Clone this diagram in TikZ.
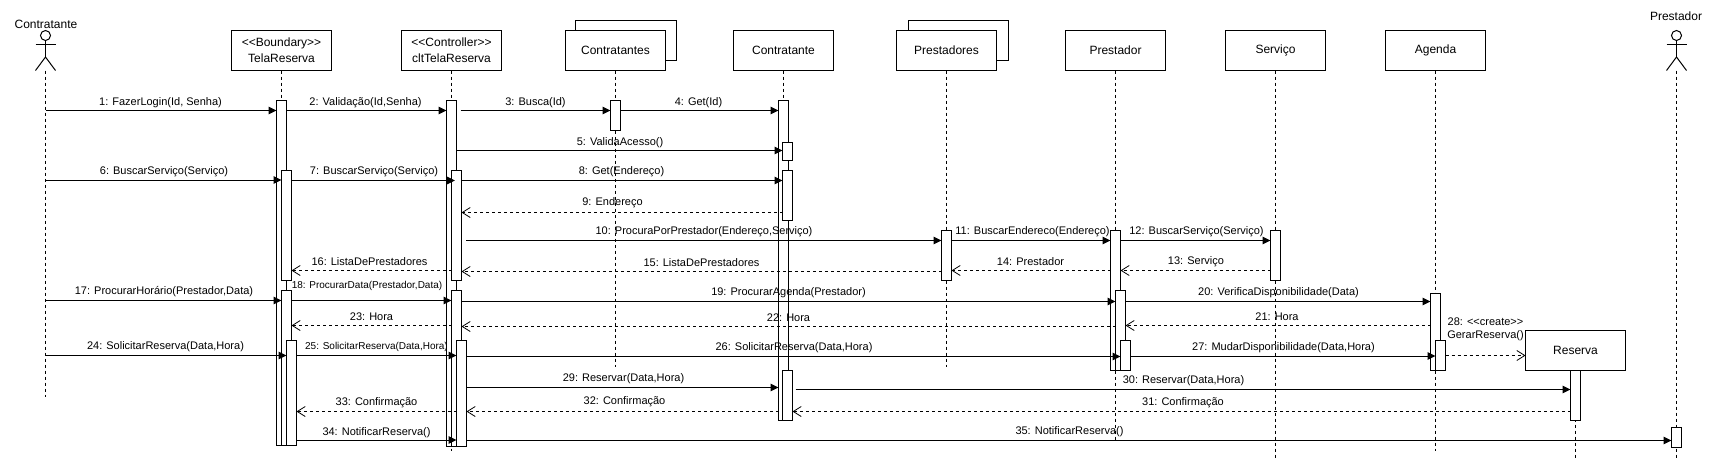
\documentclass[tikz,border=0pt]{standalone}
\usepackage{fontspec}
\setmainfont{Liberation Sans}
\usetikzlibrary{arrows.meta}
\tikzset{
  base/.style={line width=1pt,draw=black},
  objbox/.style={base,fill=white,minimum width=100pt,minimum height=40pt,inner sep=0pt,outer sep=0pt,align=center,font=\fontsize{12pt}{15pt}\selectfont},
  actbox/.style={base,fill=white,minimum width=10pt,inner sep=0pt,outer sep=0pt},
  lifeline/.style={base,dash pattern=on 3pt off 3pt},
  syncmsg/.style={base,-{Triangle[length=8pt,width=7.5pt]}},
  retmsg/.style={base,dash pattern=on 3pt off 3pt,-{Straight Barb[length=8pt,width=10pt,line width=.8pt]}},
  lab/.style={inner sep=0pt,outer sep=0pt,yshift=-1pt,font=\fontsize{11pt}{13pt}\selectfont},
  smalllab/.style={inner sep=0pt,outer sep=0pt,yshift=-1pt,font=\fontsize{10pt}{12pt}\selectfont},
  actorpart/.style={base},
}
\newcommand\actbar[4]{\pgfmathsetmacro\barh{#4-#3}\node[actbox,minimum height=\barh pt,anchor=north] (#1) at (#2,#3) {};}
% id, from, to, y, label x, label y, text
\newcommand\syncm[7]{\draw[syncmsg] (#2 |- 0,#4) -- (#3 |- 0,#4);\node[lab] (m#1) at (#5,#6) {#7};}
\newcommand\retm[7]{\draw[retmsg] (#2 |- 0,#4) -- (#3 |- 0,#4);\node[lab] (m#1) at (#5,#6) {#7};}
\newcommand\actorfig[1]{%
  \node[base,circle,minimum size=10pt,inner sep=0pt,outer sep=0pt,fill=white] (#1head) at (#1top) {};
  \draw[actorpart] (#1head.south) -- ([yshift=-16.5pt]#1head.south) coordinate (#1hip);
  \draw[actorpart] ([xshift=-10pt,yshift=-3.5pt]#1head.south) -- ([xshift=10pt,yshift=-3.5pt]#1head.south);
  \draw[actorpart] ([xshift=-10pt,yshift=-13.5pt]#1hip) -- (#1hip) -- ([xshift=10pt,yshift=-13.5pt]#1hip);
  \coordinate (#1foot) at ([yshift=-13.5pt]#1hip);
}
\begin{document}
\begin{tikzpicture}[x=1pt,y=-1pt]
\useasboundingbox (0,0) rectangle (1716,461);
% actors
\coordinate (aAtop) at (45.5,35.5);
\coordinate (aBtop) at (1676.5,35.5);
\coordinate (aAend) at (45.5,397);
\coordinate (aBend) at (1676.5,458);
\node[lab,font=\fontsize{12pt}{14pt}\selectfont] (aAname) at (46,23) {Contratante};
\node[lab,font=\fontsize{12pt}{14pt}\selectfont] (aBname) at (1676,15) {Prestador};
\actorfig{aA}
\actorfig{aB}
\draw[lifeline] (aAfoot) -- (aAend);
\draw[lifeline] (aBfoot) -- (aBend);
% back boxes of multi-objects
\node[base,fill=white,minimum width=101pt,minimum height=40pt,inner sep=0pt,outer sep=0pt] (ctsback) at (626,40.5) {};
\node[base,fill=white,minimum width=100pt,minimum height=40pt,inner sep=0pt,outer sep=0pt] (prsback) at (958.5,40.5) {};
% objects
\node[objbox] (tela) at (281.5,50.5) {<{}<Boundary>{}>\\[1pt]TelaReserva};
\node[objbox] (clt) at (451.5,50.5) {<{}<Controller>{}>\\[1pt]cltTelaReserva};
\node[objbox] (cts) at (615.5,50.5) {Contratantes};
\node[objbox] (ctr) at (783.5,50.5) {Contratante};
\node[objbox] (prs) at (946.5,50.5) {Prestadores};
\node[objbox] (pre) at (1115.5,50.5) {Prestador};
\node[objbox] (ser) at (1275.5,50.5) {Serviço};
\node[objbox] (age) at (1435.5,50.5) {Agenda};
\node[objbox] (res) at (1575.5,350.5) {Reserva};
% lifeline ends
\coordinate (telaend) at (281.5,445);
\coordinate (cltend) at (451.5,451);
\coordinate (ctsend) at (615.5,367);
\coordinate (ctrend) at (783.5,420);
\coordinate (prsend) at (946.5,367);
\coordinate (preend) at (1115.5,440);
\coordinate (serend) at (1275.5,458);
\coordinate (ageend) at (1435.5,451);
\coordinate (resend) at (1575.5,458);
\foreach \o in {tela,clt,cts,ctr,prs,pre,ser,age,res}{\draw[lifeline] (\o.south) -- (\o end);}
% activations
\actbar{tA}{281.5}{100.5}{445.5}
\actbar{tB}{286.5}{170.5}{280.5}
\actbar{tC}{286.5}{290.5}{445.5}
\actbar{tD}{291.5}{340.5}{445.5}
\actbar{cA}{451.5}{100.5}{446.5}
\actbar{cB}{456.5}{170.5}{280.5}
\actbar{cC}{456.5}{290.5}{446.5}
\actbar{cD}{461.5}{340.5}{446.5}
\actbar{sA}{615.5}{100.5}{130.5}
\actbar{dA}{783.5}{100.5}{420.5}
\actbar{dB}{787.5}{142.5}{160.5}
\actbar{dC}{787.5}{170.5}{220.5}
\actbar{dD}{787.5}{370.5}{420.5}
\actbar{pA}{946.5}{230.5}{280.5}
\actbar{eA}{1115.5}{230.5}{370.5}
\actbar{eB}{1120.5}{290.5}{370.5}
\actbar{eC}{1125.5}{340.5}{370.5}
\actbar{vA}{1275.5}{230.5}{280.5}
\actbar{gA}{1435.5}{293.5}{370.5}
\actbar{gB}{1440.5}{340.5}{370.5}
\actbar{rA}{1575.5}{370.5}{420.5}
\actbar{xA}{1676.5}{427.5}{447.5}
% free message ends
\coordinate (s3) at (460.5,0);
\coordinate (s10) at (466,0);
\coordinate (t7) at (455,0);
\coordinate (s30) at (795.5,0);
\coordinate (t34) at (456.5,0);
% messages
\syncm{1}{aAend}{tA.west}{110.5}{160.5}{101.5}{1: FazerLogin(Id, Senha)}
\syncm{2}{tA.east}{cA.west}{110.5}{365.5}{101.5}{2: Validação(Id,Senha)}
\syncm{3}{s3}{sA.west}{110.5}{535.5}{101.5}{3: Busca(Id)}
\syncm{4}{sA.east}{dA.west}{110.5}{698.5}{101.5}{4: Get(Id)}
\syncm{5}{cA.east}{dB.west}{150.5}{620}{141.5}{5: ValidaAcesso()}
\syncm{6}{aAend}{tB.west}{180}{164}{171}{6: BuscarServiço(Serviço)}
\syncm{7}{tB.east}{t7}{180.5}{374}{171}{7: BuscarServiço(Serviço)}
\syncm{8}{cB.east}{dC.west}{180.5}{621.5}{171}{8: Get(Endereço)}
\retm{9}{dC.west}{cB.east}{212.5}{612.5}{202}{9: Endereço}
\syncm{10}{s10}{pA.west}{240.5}{704}{231}{10: ProcuraPorPrestador(Endereço,Serviço)}
\syncm{11}{pA.east}{eA.west}{240.5}{1032.5}{231}{11: BuscarEndereco(Endereço)}
\syncm{12}{eA.east}{vA.west}{240.5}{1196.5}{231}{12: BuscarServiço(Serviço)}
\retm{13}{vA.west}{eA.east}{270.5}{1196}{261}{13: Serviço}
\retm{14}{eA.west}{pA.east}{270.5}{1030.5}{261}{14: Prestador}
\retm{15}{pA.west}{cB.east}{271.5}{701.5}{262}{15: ListaDePrestadores}
\retm{16}{cB.west}{tB.east}{270.5}{369.5}{261}{16: ListaDePrestadores}
\syncm{17}{aAend}{tC.west}{300.5}{164}{291}{17: ProcurarHorário(Prestador,Data)}
\draw[syncmsg] (tC.east |- 0,300.5) -- (cC.west |- 0,300.5);
\node[smalllab] (m18) at (367,285) {18: ProcurarData(Prestador,Data)};
\syncm{19}{cC.east}{eB.west}{301.5}{788.5}{292}{19: ProcurarAgenda(Prestador)}
\syncm{20}{eB.east}{gA.west}{301.5}{1278.5}{292}{20: VerificaDisponibilidade(Data)}
\retm{21}{gA.west}{eB.east}{325.5}{1277}{316}{21: Hora}
\retm{22}{eB.west}{cC.east}{326.5}{788.5}{317}{22: Hora}
\retm{23}{cC.west}{tC.east}{325.5}{371.5}{316}{23: Hora}
\syncm{24}{aAend}{tD.west}{355.5}{165.5}{346}{24: SolicitarReserva(Data,Hora)}
\draw[syncmsg] (tD.east |- 0,355.5) -- (cD.west |- 0,355.5);
\node[smalllab] (m25) at (376.5,346) {25: SolicitarReserva(Data,Hora)};
\syncm{26}{cD.east}{eC.west}{356.5}{794}{347}{26: SolicitarReserva(Data,Hora)}
\syncm{27}{eC.east}{gB.west}{356}{1283.5}{347}{27: MudarDisponibilidade(Data,Hora)}
\draw[retmsg] (gB.east |- 0,355.5) -- (res.west |- 0,355.5);
\node[lab,align=center,font=\fontsize{11pt}{13pt}\selectfont] (m28) at (1485.5,328) {28: <{}<create>{}>\\GerarReserva()};
\syncm{29}{cD.east}{dA.west}{387.5}{623.5}{378}{29: Reservar(Data,Hora)}
\syncm{30}{s30}{rA.west}{389.5}{1183.5}{380}{30: Reservar(Data,Hora)}
\retm{31}{rA.west}{dD.east}{411.5}{1183}{402}{31: Confirmação}
\retm{32}{dA.west}{cD.east}{411.5}{624.5}{401}{32: Confirmação}
\retm{33}{cD.west}{tD.east}{411.5}{376.5}{402}{33: Confirmação}
\syncm{34}{tD.east}{t34}{440}{376.5}{432}{34: NotificarReserva()}
\syncm{35}{cD.east}{xA.west}{440.5}{1069.5}{431}{35: NotificarReserva()}
\end{tikzpicture}
\end{document}
